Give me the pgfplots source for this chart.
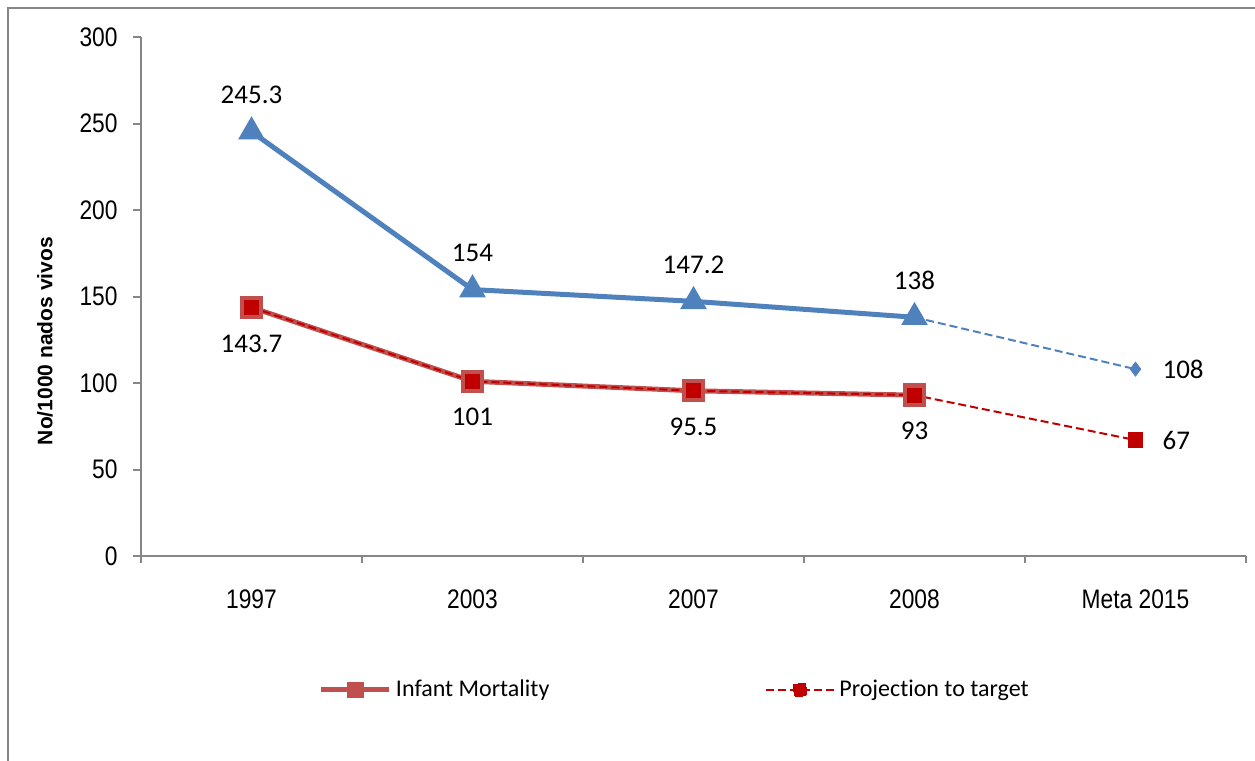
\documentclass[border=0pt]{standalone}
\usepackage{fontspec}
\setmainfont{Carlito}[Ligatures=NoCommon]
\newfontfamily\narrowfont{Liberation Sans}[FakeStretch=0.85]
\newfontfamily\arialfont{Liberation Sans}
\usepackage{pgfplots}
\pgfplotsset{compat=1.18}
\definecolor{cblue}{HTML}{4F81BD}
\definecolor{cred}{HTML}{C0504D}
\definecolor{cdark}{HTML}{C00000}
\definecolor{cgray}{HTML}{868686}

\begin{document}
\begin{tikzpicture}
\useasboundingbox (-70.5pt,-102.5pt) rectangle (557pt,278pt);
\draw[cgray, line width=1pt] (-66.5pt,-102.5pt) -- (-66.5pt,274pt) -- (557pt,274pt);
\begin{axis}[
    scale only axis,
    width=552.5pt, height=259.5pt,
    xmin=-0.5, xmax=4.5,
    ymin=0, ymax=300,
    axis x line*=bottom, axis y line*=left,
    axis line style={cgray, line width=1pt},
    tick align=outside,
    xtick={0,1,2,3,4},
    xticklabels={1997,2003,2007,2008,Meta 2015},
    major x tick style={draw=none},
    minor xtick={-0.5,0.5,1.5,2.5,3.5,4.5},
    minor x tick style={cgray, line width=1pt},
    minor tick length=3.5pt,
    ytick={0,50,...,300},
    major y tick style={cgray, line width=1pt},
    major tick length=4pt,
    /pgf/number format/assume math mode=true,
    ticklabel style={font=\narrowfont\fontsize{13.4}{15}\selectfont},
    xticklabel style={anchor=center, yshift=-17.5pt},
    yticklabel style={anchor=east, xshift=-4.2pt},
    ylabel={No/1000 nados vivos},
    ylabel style={at={(axis description cs:-0.087,0.414)}, anchor=center,
        font=\arialfont\bfseries\fontsize{10.5}{12}\selectfont},
    legend columns=2,
    legend style={draw=none, at={(axis description cs:0.484,-0.258)}, anchor=center,
        font=\fontsize{12}{14}\selectfont,
        /tikz/every even column/.append style={column sep=106pt}},
    legend image code/.code={\draw[mark repeat=2,mark phase=2]
        plot coordinates {(0pt,0pt)(17pt,0pt)(34pt,0pt)};},
    clip=false,
]

% blue series, measured
\addplot[cblue, line width=2.5pt, mark=triangle*, mark size=5.2pt,
    mark options={solid},
    point meta=explicit symbolic, nodes near coords,
    every node near coord/.append style={font=\fontsize{13.5}{15}\selectfont,
        text=black, anchor=center, yshift=18.5pt},
    forget plot]
    coordinates {(0,245.3)[245.3] (1,154)[154] (2,147.2)[147.2] (3,138)[138]};

% blue projection
\addplot[cblue, line width=1pt, dash pattern=on 4pt off 2pt, forget plot]
    coordinates {(3,138) (4,108)};
\addplot[cblue, only marks, mark=diamond*, mark size=3.5pt,
    point meta=explicit symbolic, nodes near coords,
    every node near coord/.append style={font=\fontsize{13.5}{15}\selectfont,
        text=black, anchor=west, xshift=10pt},
    forget plot]
    coordinates {(4,108)[108]};

% infant mortality
\addplot[cred, line width=2.5pt, mark=square*, mark size=4.6pt,
    mark options={solid},
    legend image post style={mark options={scale=0.6}},
    point meta=explicit symbolic, nodes near coords,
    every node near coord/.append style={font=\fontsize{13.5}{15}\selectfont,
        text=black, anchor=center, yshift=-18pt}]
    coordinates {(0,143.7)[143.7] (1,101)[101] (2,95.5)[95.5] (3,93)[93]};
\addlegendentry{Infant Mortality}

% projection to target
\addplot[cdark, line width=1pt, dash pattern=on 4pt off 2pt, mark=square*,
    mark size=3.3pt, mark options={solid},
    legend image post style={mark options={scale=0.9}}]
    coordinates {(0,143.7) (1,101) (2,95.5) (3,93) (4,67)};
\addlegendentry{Projection to target}
\addplot[draw=none, only marks, mark=none,
    point meta=explicit symbolic, nodes near coords,
    every node near coord/.append style={font=\fontsize{13.5}{15}\selectfont,
        text=black, anchor=west, xshift=10pt},
    forget plot]
    coordinates {(4,67)[67]};

\end{axis}
\end{tikzpicture}
\end{document}
